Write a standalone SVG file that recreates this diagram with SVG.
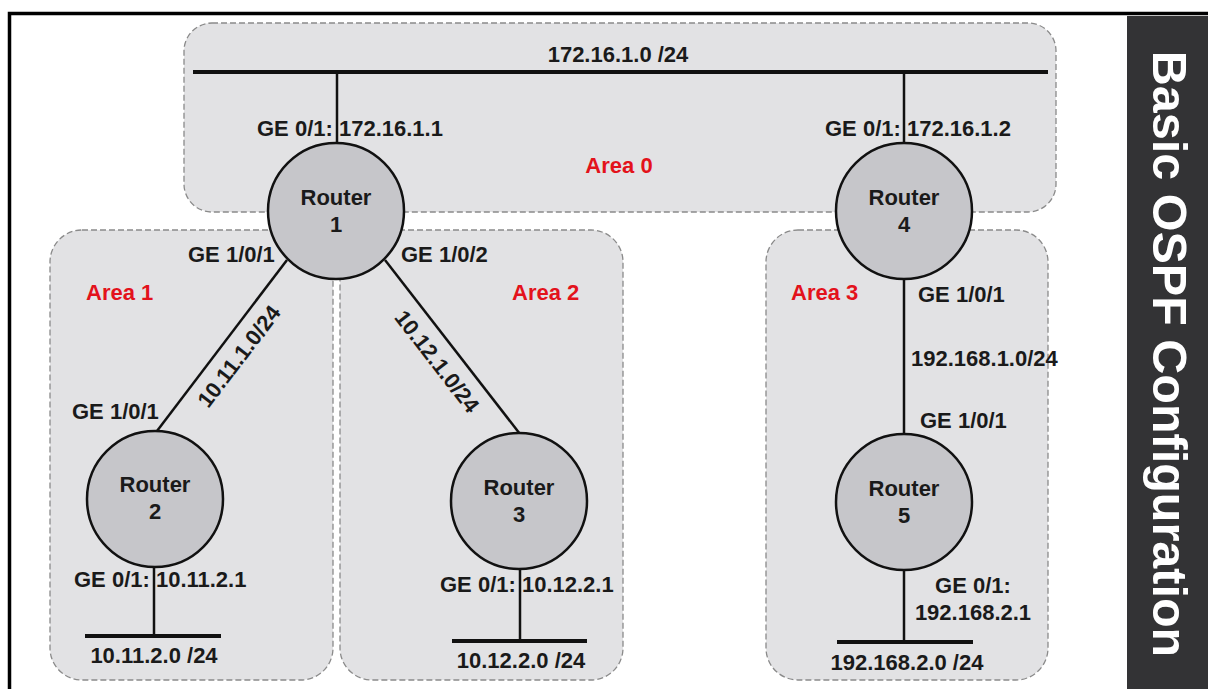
<svg xmlns="http://www.w3.org/2000/svg" width="1208" height="689" viewBox="0 0 1208 689">
<style>
.area{fill:#e2e2e4;stroke:#8a8a8a;stroke-width:1.3;stroke-dasharray:6 3}
.router{fill:#c6c6ca;stroke:#111;stroke-width:2.5}
.link{stroke:#111;stroke-width:2.5;fill:none}
.bus{stroke:#111;stroke-width:4;fill:none}
.t{font-family:"Liberation Sans",Arial,sans-serif;font-weight:bold;font-size:22px;fill:#1a1a1a}
.c{text-anchor:middle}
.red{fill:#e3121b}
</style>
<rect x="0" y="0" width="1208" height="689" fill="#fff"/>
<path d="M9.5 689 V13.5 H1208" fill="none" stroke="#000" stroke-width="3.5"/>
<rect x="1127" y="16" width="81" height="673" fill="#333335"/>
<text class="t" x="0" y="0" transform="translate(1153 354) rotate(90)" text-anchor="middle" style="font-size:48.5px;fill:#fff">Basic OSPF Configuration</text>

<g id="areas">
<rect id="area0" class="area" x="184" y="23" width="872" height="189" rx="28"/>
<rect id="area1" class="area" x="50" y="230" width="283" height="450" rx="32"/>
<rect id="area2" class="area" x="340" y="230" width="283" height="450" rx="32"/>
<rect id="area3" class="area" x="766" y="230" width="282" height="450" rx="32"/>
<text class="t red c" x="619" y="173">Area 0</text>
<text class="t red" x="86" y="300">Area 1</text>
<text class="t red" x="512" y="300">Area 2</text>
<text class="t red" x="791" y="300">Area 3</text>
</g>

<g id="connectors">
<line class="bus" x1="193" y1="72" x2="1048" y2="72"/>
<line class="link" x1="337" y1="72" x2="337" y2="143"/>
<line class="link" x1="904" y1="72" x2="904" y2="143"/>
<line class="link" x1="287" y1="260" x2="157" y2="431"/>
<line class="link" x1="385" y1="260" x2="520" y2="434"/>
<line class="link" x1="904" y1="279" x2="904" y2="433"/>
<line class="link" x1="154" y1="567" x2="154" y2="636"/>
<line class="bus" x1="85" y1="636" x2="221" y2="636"/>
<line class="link" x1="520" y1="569" x2="520" y2="641"/>
<line class="bus" x1="452" y1="641" x2="587" y2="641"/>
<line class="link" x1="904" y1="570" x2="904" y2="642"/>
<line class="bus" x1="837" y1="642" x2="973" y2="642"/>
<text class="t c" x="618" y="62">172.16.1.0 /24</text>
<text class="t" x="257" y="136">GE 0/1: 172.16.1.1</text>
<text class="t" x="825" y="136">GE 0/1: 172.16.1.2</text>
<text class="t" x="188" y="262">GE 1/0/1</text>
<text class="t" x="401" y="262">GE 1/0/2</text>
<text class="t" x="72" y="419">GE 1/0/1</text>
<text class="t c" transform="translate(245 361) rotate(-52.6)">10.11.1.0/24</text>
<text class="t c" transform="translate(431 366) rotate(52.2)">10.12.1.0/24</text>
<text class="t" x="918" y="302">GE 1/0/1</text>
<text class="t" x="911" y="366">192.168.1.0/24</text>
<text class="t" x="920" y="428">GE 1/0/1</text>
<text class="t" x="74" y="587">GE 0/1: 10.11.2.1</text>
<text class="t c" x="154" y="663">10.11.2.0 /24</text>
<text class="t" x="440" y="592">GE 0/1: 10.12.2.1</text>
<text class="t c" x="521" y="668">10.12.2.0 /24</text>
<text class="t c" x="973" y="593">GE 0/1:</text>
<text class="t c" x="973" y="620">192.168.2.1</text>
<text class="t c" x="907" y="670">192.168.2.0 /24</text>
</g>

<g id="router1"><circle class="router" cx="336" cy="211" r="68"/><text class="t c" x="336" y="205">Router</text><text class="t c" x="336" y="232">1</text></g>
<g id="router4"><circle class="router" cx="904" cy="211" r="68"/><text class="t c" x="904" y="205">Router</text><text class="t c" x="904" y="232">4</text></g>
<g id="router2"><circle class="router" cx="155" cy="499" r="68"/><text class="t c" x="155" y="492">Router</text><text class="t c" x="155" y="519">2</text></g>
<g id="router3"><circle class="router" cx="519" cy="501" r="68"/><text class="t c" x="519" y="495">Router</text><text class="t c" x="519" y="522">3</text></g>
<g id="router5"><circle class="router" cx="904" cy="502" r="68"/><text class="t c" x="904" y="496">Router</text><text class="t c" x="904" y="523">5</text></g>
</svg>
